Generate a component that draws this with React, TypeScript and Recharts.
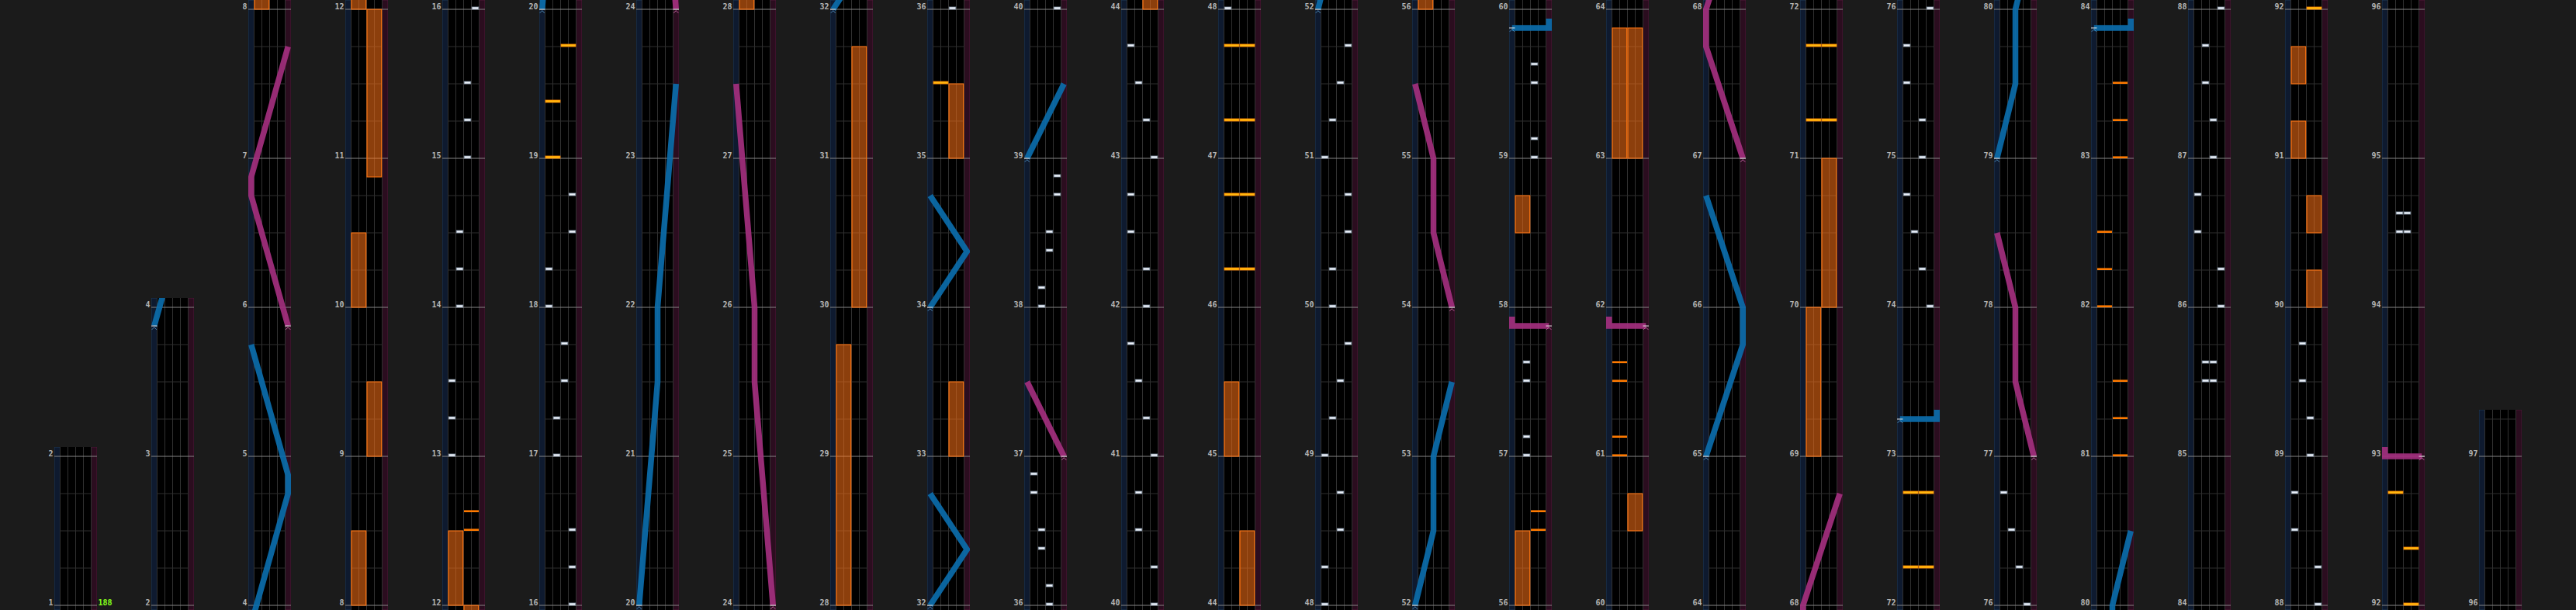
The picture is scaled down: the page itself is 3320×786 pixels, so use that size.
import React from "react";
import { ScatterChart, Scatter, XAxis, YAxis, ReferenceArea, ReferenceLine } from "recharts";

// ---------------- data ----------------
// measure at the bottom / top line of every column of the chart view
const COLUMN_STARTS = [1, 2, 4, 8, 12, 16, 20, 24, 28, 32, 36, 40, 44, 48, 52, 56, 60, 64, 68, 72, 76, 80, 84, 88, 92, 96];
const COLUMN_ENDS = [2, 4, 8, 12, 16, 20, 24, 28, 32, 36, 40, 44, 48, 52, 56, 60, 64, 68, 72, 76, 80, 84, 88, 92, 96, 97];
const SONG_END = 97.3125;

// [measure, bpm]
const BPM_MARKS: [number, number][] = [[1, 188]];

// BT chips: [measure, lane 0..3]
const BT_CHIPS: [number, number][] = [
  [13, 0], [13.25, 0], [13.5, 0], [14, 1], [14.25, 1], [14.5, 1], [15, 2], [15.25, 2], [15.5, 2], [16, 3],
  [16.25, 3], [16.5, 3], [17, 1], [17.25, 1], [17.5, 2], [17.75, 2], [18, 0], [18.25, 0], [18.5, 3], [18.75, 3],
  [36, 2], [36.125, 2], [36.375, 1], [36.5, 1], [36.75, 0], [36.875, 0],
  [38, 1], [38.125, 1], [38.375, 2], [38.5, 2], [38.75, 3], [38.875, 3], [40, 3],
  [40.25, 3], [40.5, 1], [40.75, 1], [41, 3], [41.25, 2], [41.5, 1], [41.75, 0],
  [42, 2], [42.25, 2], [42.5, 0], [42.75, 0], [43, 3], [43.25, 2], [43.5, 1], [43.75, 0],
  [48, 0], [48.25, 0], [48.5, 2], [48.75, 2], [49, 0], [49.25, 1], [49.5, 2], [49.75, 3],
  [50, 1], [50.25, 1], [50.5, 3], [50.75, 3], [51, 0], [51.25, 1], [51.5, 2], [51.75, 3],
  [57, 1], [57.125, 1], [57.5, 1], [57.625, 1], [59, 2], [59.125, 2], [59.5, 2], [59.625, 2],
  [74, 3], [74.25, 2], [74.5, 1], [74.75, 0], [75, 2], [75.25, 2], [75.5, 0], [75.75, 0], [76, 3],
  [76.25, 2], [76.5, 1], [76.75, 0],
  [85.5, 1], [85.5, 2], [85.625, 1], [85.625, 2], [86, 3], [86.25, 3], [86.5, 0], [86.75, 0],
  [87, 2], [87.25, 2], [87.5, 1], [87.75, 1], [88, 3],
  [88.25, 3], [88.5, 0], [88.75, 0], [89, 2], [89.25, 2], [89.5, 1], [89.75, 1],
  [94.5, 1], [94.5, 2], [94.625, 1], [94.625, 2],
];

// FX chips: [measure, side 0=left 1=right, style 0=plain 1=sound]
const FX_CHIPS: [number, number, number][] = [
  [12.5, 1, 0], [12.625, 1, 0],
  [19, 0, 1], [19.375, 0, 1], [19.75, 1, 1],
  [35.5, 0, 1],
  [46.25, 0, 1], [46.25, 1, 1], [46.75, 0, 1], [46.75, 1, 1], [47.25, 0, 1], [47.25, 1, 1], [47.75, 0, 1], [47.75, 1, 1],
  [56.5, 1, 0], [56.625, 1, 0],
  [61, 0, 0], [61.125, 0, 0], [61.5, 0, 0], [61.625, 0, 0],
  [71.25, 0, 1], [71.25, 1, 1], [71.75, 0, 1], [71.75, 1, 1],
  [72.25, 0, 1], [72.25, 1, 1], [72.75, 0, 1], [72.75, 1, 1],
  [81, 1, 0], [81.25, 1, 0], [81.5, 1, 0], [82, 0, 0], [82.25, 0, 0], [82.5, 0, 0], [83, 1, 0], [83.25, 1, 0], [83.5, 1, 0],
  [92, 1, 1], [92.375, 1, 1], [92.75, 0, 1],
];

// FX holds: [start measure, end measure, side]
const FX_HOLDS: [number, number, number][] = [
  [8, 8.5, 0], [9, 9.5, 1], [10, 10.5, 0], [10.875, 12, 1], [12, 12.5, 0],
  [28, 29.75, 0], [30, 31.75, 1],
  [33, 33.5, 1], [35, 35.5, 1],
  [44, 44.5, 1], [45, 45.5, 0],
  [56, 56.5, 0], [58.5, 58.75, 0],
  [60.5, 60.75, 1], [63, 63.875, 0], [63, 63.875, 1],
  [69, 70, 0], [70, 71, 1],
  [90, 90.25, 1], [90.5, 90.75, 1], [91, 91.25, 0], [91.5, 91.75, 0],
];

// Lasers: lists of [measure, position 0=left .. 1=right]
const LEFT_LASERS: [number, number][][] = [
  [[3.875, 0], [4.75, 1], [4.875, 1], [5.75, 0]],
  [[20, 0], [21.5, 0.5], [22, 0.5], [23.5, 1]],
  [[32, 0], [32.375, 1], [32.75, 0]],
  [[34, 0], [34.375, 1], [34.75, 0]],
  [[39, 0], [39.5, 1]],
  [[52, 0], [52.5, 0.5], [53, 0.5], [53.5, 1]],
  [[59.875, 0], [59.875, 1], [59.9375, 1]],
  [[65, 0], [65.75, 1], [66, 1], [66.75, 0]],
  [[73.25, 0], [73.25, 1], [73.3125, 1]],
  [[79, 0], [79.5, 0.5], [80, 0.5], [80.5, 1]],
  [[83.875, 0], [83.875, 1], [83.9375, 1]],
];
const RIGHT_LASERS: [number, number][][] = [
  [[5.875, 1], [6.75, 0], [6.875, 0], [7.75, 1]],
  [[24, 1], [25.5, 0.5], [26, 0.5], [27.5, 0]],
  [[37, 1], [37.5, 0]],
  [[54, 1], [54.5, 0.5], [55, 0.5], [55.5, 0]],
  [[57.875, 1], [57.875, 0], [57.9375, 0]],
  [[61.875, 1], [61.875, 0], [61.9375, 0]],
  [[67, 1], [67.75, 0], [68, 0], [68.75, 1]],
  [[77, 1], [77.5, 0.5], [78, 0.5], [78.5, 0]],
  [[93, 1], [93, 0], [93.0625, 0]],
];

// ---------------- layout & style ----------------
const PAGE_W = 3320;
const PAGE_H = 786;
const PX_PER_MEASURE = 192;
const FIRST_COL_X = 70;
const COL_PITCH = 125;
const AXIS_W = 30;
const PLOT_W = 55;
const RIGHT_PAD = 25;
const BELOW = 1 / 32;
const ABOVE = 1 / 16;
const X_MAX = 5.5; // lane units: 0..0.75 left laser lane, 0.75..4.75 BT lanes, 4.75..5.5 right laser lane

const BG = "#1b1b1b";
const BLUE = "#0b6cab";
const PINK = "#a32f7e";

const laneCenter = (lane: number) => 0.75 + lane + 0.5;
const fxCenter = (side: number) => 0.75 + side * 2 + 1;
const laserX = (pos: number) => 0.375 + 4.75 * pos;

const EmptyShape = () => <g />;

const BtChipShape = (p: any) => (
  <rect x={p.cx - 4.25} y={p.cy - 3} width={8.5} height={3} fill="#eef3fa" stroke="#8797aa" strokeWidth={0.8} />
);

const FxChipShape = (p: any) =>
  p.payload.style === 1 ? (
    <rect x={p.cx - 9.5} y={p.cy - 3} width={19} height={3} fill="#ffbb10" stroke="#ff8200" strokeWidth={0.8} />
  ) : (
    <rect x={p.cx - 9.5} y={p.cy - 2.6} width={19} height={2.6} fill="#ff7a00" />
  );

const makeStartShape = (tint: string) => (p: any) => (
  <g>
    <line x1={p.cx - 3.7} x2={p.cx + 3.7} y1={p.cy} y2={p.cy} stroke="#e8e8e8" strokeWidth={1} />
    <path
      d={`M${p.cx - 3},${p.cy + 4.8} L${p.cx},${p.cy + 1.6} L${p.cx + 3},${p.cy + 4.8}`}
      fill="none"
      stroke={tint}
      strokeWidth={1}
    />
  </g>
);
const BlueStartShape = makeStartShape("#4b86b4");
const PinkStartShape = makeStartShape("#c0609e");

const renderTick = (p: any) => (
  <text
    x={AXIS_W - 1.5}
    y={p.y - 0.5}
    textAnchor="end"
    fill="#b4b4b4"
    fontFamily="DejaVu Sans Mono"
    fontWeight="bold"
    fontSize={10}
  >
    {p.payload.value}
  </text>
);

const makeBpmTick = (labels: Record<string, number>) => (p: any) => (
  <text
    x={AXIS_W + PLOT_W + 1.5}
    y={p.y - 0.5}
    textAnchor="start"
    fill="#86ff1a"
    fontFamily="DejaVu Sans Mono"
    fontWeight="bold"
    fontSize={10}
  >
    {labels[String(p.payload.value)]}
  </text>
);

function ColumnChart({ idx }: { idx: number }) {
  const start = COLUMN_STARTS[idx];
  const end = COLUMN_ENDS[idx];
  const last = idx === COLUMN_STARTS.length - 1;
  const lo = start - BELOW;
  const hi = last ? SONG_END : end + ABOVE;
  const h = Math.round((hi - lo) * PX_PER_MEASURE);
  const w = AXIS_W + PLOT_W + RIGHT_PAD;

  const ticks: number[] = [];
  for (let m = start; m <= end; m++) ticks.push(m);
  const quarters: number[] = [];
  for (let q = Math.ceil(lo * 4) / 4; q <= hi + 1e-9; q += 0.25) {
    if (!Number.isInteger(q)) quarters.push(q);
  }

  const inRange = (m: number) => m >= lo - 0.02 && m <= hi + 0.02;
  const bt = BT_CHIPS.filter(([m]) => inRange(m)).map(([m, lane]) => ({ x: laneCenter(lane), y: m }));
  const fx = FX_CHIPS.filter(([m]) => inRange(m)).map(([m, side, style]) => ({ x: fxCenter(side), y: m, style }));
  const holds = FX_HOLDS.filter(([s, e]) => s <= hi && e >= lo);
  const overlaps = (l: [number, number][]) => l[0][0] <= hi && l[l.length - 1][0] >= lo;
  const toPts = (l: [number, number][]) => l.map(([m, pos]) => ({ x: laserX(pos), y: m }));
  const lefts = LEFT_LASERS.filter(overlaps).map(toPts);
  const rights = RIGHT_LASERS.filter(overlaps).map(toPts);
  const leftStarts = LEFT_LASERS.filter((l) => inRange(l[0][0])).map((l) => ({ x: laserX(l[0][1]), y: l[0][0] }));
  const rightStarts = RIGHT_LASERS.filter((l) => inRange(l[0][0])).map((l) => ({ x: laserX(l[0][1]), y: l[0][0] }));

  const bpms = BPM_MARKS.filter(([m]) => (idx === 0 ? m >= start : m > start) && m <= end);
  const hasBpm = bpms.length > 0;
  const bpmLabels: Record<string, number> = {};
  bpms.forEach(([m, b]) => (bpmLabels[String(m)] = b));

  return (
    <div
      style={{
        position: "absolute",
        left: FIRST_COL_X + COL_PITCH * idx - AXIS_W,
        top: PAGE_H - h,
        width: w,
        height: h,
      }}
    >
      <ScatterChart width={w} height={h} margin={{ top: 0, right: hasBpm ? 0 : RIGHT_PAD, bottom: 0, left: 0 }}>
        <XAxis type="number" dataKey="x" domain={[0, X_MAX]} allowDataOverflow hide />
        <YAxis
          type="number"
          dataKey="y"
          domain={[lo, hi]}
          allowDataOverflow
          width={AXIS_W}
          ticks={ticks}
          interval={0}
          axisLine={false}
          tickLine={false}
          tick={renderTick}
        />
        {hasBpm && (
          <YAxis
            yAxisId="bpm"
            orientation="right"
            type="number"
            dataKey="y"
            domain={[lo, hi]}
            allowDataOverflow
            width={RIGHT_PAD}
            ticks={bpms.map(([m]) => m)}
            interval={0}
            axisLine={false}
            tickLine={false}
            tick={makeBpmTick(bpmLabels)}
          />
        )}
        {/* column background */}
        <ReferenceArea x1={0} x2={X_MAX} y1={lo} y2={hi} fill="#000" fillOpacity={1} stroke="none" ifOverflow="hidden" zIndex={10} />
        {/* laser lanes */}
        <ReferenceArea x1={0} x2={0.75} y1={lo} y2={hi} fill="#0e1a2f" fillOpacity={1} stroke="#1f3855" strokeWidth={1} ifOverflow="hidden" zIndex={20} />
        <ReferenceArea x1={4.75} x2={X_MAX} y1={lo} y2={hi} fill="#2b0d1f" fillOpacity={1} stroke="#4e1838" strokeWidth={1} ifOverflow="hidden" zIndex={20} />
        {/* BT lane dividers */}
        {[0.75, 1.75, 2.75, 3.75, 4.75].map((x) => (
          <ReferenceLine key={`v${x}`} x={x} stroke="#313131" strokeWidth={1} zIndex={30} />
        ))}
        {/* beat lines */}
        {quarters.map((q) => (
          <ReferenceLine
            key={`q${q}`}
            segment={[{ x: 0.75, y: q }, { x: 4.75, y: q }]}
            stroke="#2e2e2e"
            strokeWidth={1}
            zIndex={30}
          />
        ))}
        {/* measure lines */}
        {ticks.map((m) => (
          <ReferenceLine key={`m${m}`} y={m} stroke="#868686" strokeWidth={1} zIndex={40} />
        ))}
        {/* FX holds */}
        {holds.map(([s, e, side], i) => (
          <ReferenceArea
            key={`h${i}`}
            x1={0.75 + side * 2 + 0.05}
            x2={0.75 + side * 2 + 1.92}
            y1={s}
            y2={e}
            fill="#ff7316"
            fillOpacity={0.55}
            stroke="#ff7410"
            strokeWidth={1.2}
            ifOverflow="hidden"
            zIndex={450}
          />
        ))}
        <Scatter data={fx} shape={FxChipShape} isAnimationActive={false} zIndex={600} />
        <Scatter data={bt} shape={BtChipShape} isAnimationActive={false} zIndex={610} />
        {lefts.map((pts, i) => (
          <Scatter
            key={`L${i}`}
            data={pts}
            shape={EmptyShape}
            line={{ stroke: BLUE, strokeWidth: 7.5, strokeOpacity: 0.92, strokeLinejoin: "miter" }}
            lineType="joint"
            isAnimationActive={false}
            zIndex={700}
          />
        ))}
        {rights.map((pts, i) => (
          <Scatter
            key={`R${i}`}
            data={pts}
            shape={EmptyShape}
            line={{ stroke: PINK, strokeWidth: 7.5, strokeOpacity: 0.92, strokeLinejoin: "miter" }}
            lineType="joint"
            isAnimationActive={false}
            zIndex={700}
          />
        ))}
        <Scatter data={leftStarts} shape={BlueStartShape} isAnimationActive={false} zIndex={800} />
        <Scatter data={rightStarts} shape={PinkStartShape} isAnimationActive={false} zIndex={800} />
      </ScatterChart>
    </div>
  );
}

export default function App() {
  return (
    <div
      style={{
        position: "absolute",
        left: 0,
        top: 0,
        width: PAGE_W,
        height: PAGE_H,
        background: BG,
        overflow: "hidden",
      }}
    >
      {COLUMN_STARTS.map((_, i) => (
        <ColumnChart key={i} idx={i} />
      ))}
    </div>
  );
}
